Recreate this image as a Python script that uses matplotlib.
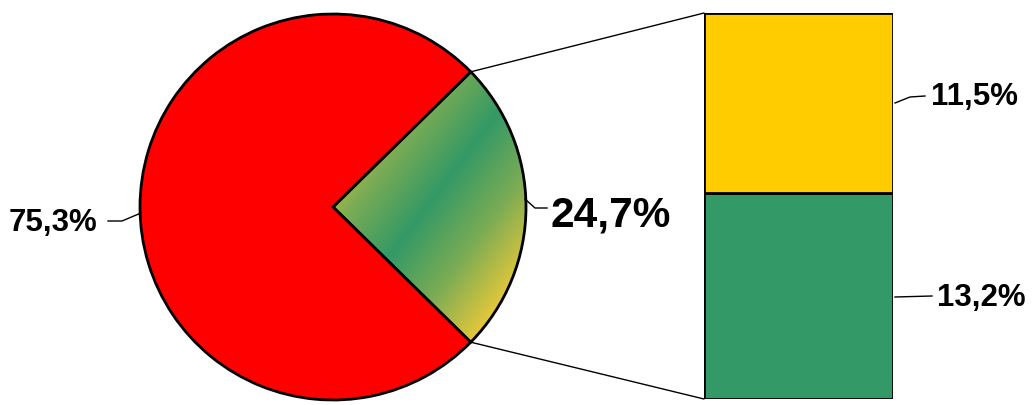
import numpy as np
import matplotlib
matplotlib.use("Agg")
import matplotlib.pyplot as plt
from matplotlib.patches import ConnectionPatch
from matplotlib.colors import LinearSegmentedColormap, to_rgb

# ---- data ----
pie_values = [24.7, 75.3]
pie_labels = ["24,7%", "75,3%"]
bar_values = [13.2, 11.5]          # bottom, top
bar_labels = ["13,2%", "11,5%"]

red = "#FF0000"
green = "#339966"
yellow = "#FFCC00"

W, H = 1034, 406
fig = plt.figure(figsize=(W / 100, H / 100), dpi=100)
plt.rcParams["font.family"] = ["Liberation Sans", "DejaVu Sans"]

ax = fig.add_axes([0, 0, 1, 1])
cx, cy, r = 333, 406 - 208, 193
half = pie_values[0] / sum(pie_values) * 360 / 2
wedges, _ = ax.pie(pie_values, startangle=-half, counterclock=True,
                   center=(cx, cy), radius=r, colors=["none", red],
                   wedgeprops=dict(edgecolor="black", linewidth=2))
ax.set_xlim(0, W)
ax.set_ylim(0, H)
ax.set_aspect("equal")
ax.axis("off")

# gradient fill of the small wedge
def mix(c1, c2, f):
    a, b = np.array(to_rgb(c1)), np.array(to_rgb(c2))
    return tuple(a + (b - a) * f)

gy = "#E8C83A"
small = wedges[0]
xs = np.linspace(cx, cx + r, 300)
ys = np.linspace(cy - r, cy + r, 600)
X, Y = np.meshgrid(xs, ys)
s = 0.8 * (X - cx) - 0.6 * (Y - cy)
smin, smax, smid = -40, 195, 75
def pos(v):
    return (v - smin) / (smax - smin)
cmap = LinearSegmentedColormap.from_list(
    "g", [(0.0, gy), (pos(15), mix(gy, green, 0.6)), (pos(75), green),
          (pos(135), mix(gy, green, 0.6)), (1.0, gy)])
im = ax.imshow(s, extent=(cx, cx + r, cy - r, cy + r), origin="lower",
               cmap=cmap, vmin=smin, vmax=smax, zorder=0.5, aspect="auto",
               interpolation="bilinear")
im.set_clip_path(small)
small.set_zorder(1)
ax.set_xlim(0, W)
ax.set_ylim(0, H)

# pie labels
ax.text(9, 406 - 223, pie_labels[1], fontsize=22.5, fontweight="bold",
        ha="left", va="center")
ax.plot([108, 122, 141], [406 - 222, 406 - 222, 406 - 214], color="black", lw=1)
ax.text(551, 406 - 216, pie_labels[0], fontsize=30.5, fontweight="bold",
        ha="left", va="center")
ax.plot([525, 535, 547], [406 - 200, 406 - 209, 406 - 209], color="black", lw=1)

# stacked bar
bx = fig.add_axes([704 / W, 6 / H, 189 / W, 386 / H])
bottoms = np.cumsum([0] + bar_values[:-1])
for v, b, c in zip(bar_values, bottoms, [green, yellow]):
    bx.bar(0.5, v, width=1, bottom=b, color=c, edgecolor="black", linewidth=2)
bx.set_xlim(0, 1)
bx.set_ylim(0, sum(bar_values))
bx.axis("off")

# connector lines
top_ang = np.deg2rad(half)
p_top = (cx + r * np.cos(top_ang), cy + r * np.sin(top_ang))
p_bot = (cx + r * np.cos(-top_ang), cy + r * np.sin(-top_ang))
for p, yb in [(p_top, sum(bar_values)), (p_bot, 0)]:
    con = ConnectionPatch(xyA=p, coordsA=ax.transData, xyB=(0, yb),
                          coordsB=bx.transData, color="black", lw=1)
    fig.add_artist(con)

# bar labels
fig.text(931 / W, 1 - 97 / H, bar_labels[1], fontsize=22.5, fontweight="bold",
         ha="left", va="center")
fig.text(937 / W, 1 - 298 / H, bar_labels[0], fontsize=22.5, fontweight="bold",
         ha="left", va="center")
ax.plot([895, 910, 925], [406 - 104, 406 - 98, 406 - 97], color="black", lw=1)
ax.plot([895, 932], [406 - 298, 406 - 297], color="black", lw=1)

fig.savefig("out.png", dpi=100)
